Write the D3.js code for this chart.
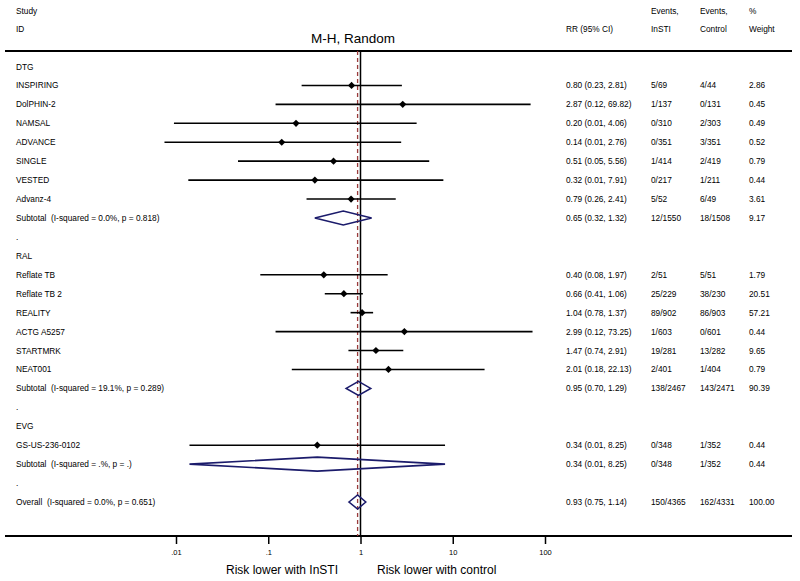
<!DOCTYPE html>
<html>
<head>
<meta charset="utf-8">
<script src="https://cdn.jsdelivr.net/npm/d3@7"></script>
<style>
  html, body { margin: 0; padding: 0; background: #fff; }
  svg text { font-family: "Liberation Sans", Arial, Helvetica, sans-serif; white-space: pre; }
</style>
</head>
<body>
<svg id="chart" width="800" height="581"></svg>
<script>
// ---- Data ----
// row kinds: "group" header, "study", "sub" (pooled subtotal), "gap" ("."), "overall"
const rowLabels = [
  "DTG", "INSPIRING", "DolPHIN-2", "NAMSAL", "ADVANCE", "SINGLE", "VESTED", "Advanz-4",
  "Subtotal  (I-squared = 0.0%, p = 0.818)", ".",
  "RAL", "Reflate TB", "Reflate TB 2", "REALITY", "ACTG A5257", "STARTMRK", "NEAT001",
  "Subtotal  (I-squared = 19.1%, p = 0.289)", ".",
  "EVG", "GS-US-236-0102", "Subtotal  (I-squared = .%, p = .)", ".",
  "Overall  (I-squared = 0.0%, p = 0.651)"
];
const rowKinds = [
  "group", "study", "study", "study", "study", "study", "study", "study", "sub", "gap",
  "group", "study", "study", "study", "study", "study", "study", "sub", "gap",
  "group", "study", "sub", "gap", "overall"
];
// plotted estimates
const rr     = [null, 0.80, 2.87, 0.20, 0.14, 0.51, 0.32, 0.79, 0.65, null,
                null, 0.40, 0.66, 1.04, 2.99, 1.47, 2.01, 0.95, null,
                null, 0.34, 0.34, null, 0.93];
const ciLow  = [null, 0.23, 0.12, 0.0095, 0.0075, 0.047, 0.0136, 0.26, 0.32, null,
                null, 0.082, 0.41, 0.78, 0.12, 0.74, 0.18, 0.70, null,
                null, 0.014, 0.014, null, 0.75];
const ciHigh = [null, 2.81, 69.82, 4.06, 2.76, 5.56, 7.91, 2.41, 1.32, null,
                null, 1.97, 1.06, 1.37, 73.25, 2.91, 22.13, 1.29, null,
                null, 8.25, 8.25, null, 1.14];
// printed columns
const rrText = ["", "0.80 (0.23, 2.81)", "2.87 (0.12, 69.82)", "0.20 (0.01, 4.06)", "0.14 (0.01, 2.76)",
  "0.51 (0.05, 5.56)", "0.32 (0.01, 7.91)", "0.79 (0.26, 2.41)", "0.65 (0.32, 1.32)", "",
  "", "0.40 (0.08, 1.97)", "0.66 (0.41, 1.06)", "1.04 (0.78, 1.37)", "2.99 (0.12, 73.25)",
  "1.47 (0.74, 2.91)", "2.01 (0.18, 22.13)", "0.95 (0.70, 1.29)", "",
  "", "0.34 (0.01, 8.25)", "0.34 (0.01, 8.25)", "", "0.93 (0.75, 1.14)"];
const eventsInSTI = ["", "5/69", "1/137", "0/310", "0/351", "1/414", "0/217", "5/52", "12/1550", "",
  "", "2/51", "25/229", "89/902", "1/603", "19/281", "2/401", "138/2467", "",
  "", "0/348", "0/348", "", "150/4365"];
const eventsControl = ["", "4/44", "0/131", "2/303", "3/351", "2/419", "1/211", "6/49", "18/1508", "",
  "", "5/51", "38/230", "86/903", "0/601", "13/282", "1/404", "143/2471", "",
  "", "1/352", "1/352", "", "162/4331"];
const weightText = ["", "2.86", "0.45", "0.49", "0.52", "0.79", "0.44", "3.61", "9.17", "",
  "", "1.79", "20.51", "57.21", "0.44", "9.65", "0.79", "90.39", "",
  "", "0.44", "0.44", "", "100.00"];
const tickValues = [0.01, 0.1, 1, 10, 100];
const tickLabels = [".01", ".1", "1", "10", "100"];
const headers = [
  {t1: "Study", t2: "ID", col: "label"},
  {t1: "", t2: "RR (95% CI)", col: "rr"},
  {t1: "Events,", t2: "InSTI", col: "ei"},
  {t1: "Events,", t2: "Control", col: "ec"},
  {t1: "%", t2: "Weight", col: "w"}
];
const overallRR = 0.93;

// ---- Layout ----
const svg = d3.select("#chart");
const x = d3.scaleLog().domain([0.01, 100]).range([176, 545]);
const y = d3.scaleLinear().domain([0, rowLabels.length - 1]).range([66.5, 502]);
const colX = {label: 16, rr: 566, ei: 651, ec: 700, w: 749};
const topY = 51, axisY = 536;
const fs = 8.3;
const navy = "#1b1b6b";

// header
headers.forEach(h => {
  if (h.t1) svg.append("text").attr("x", colX[h.col]).attr("y", 14).attr("font-size", fs).text(h.t1);
  svg.append("text").attr("x", colX[h.col]).attr("y", 32).attr("font-size", fs).text(h.t2);
});
svg.append("text").attr("x", 353).attr("y", 43).attr("text-anchor", "middle")
  .attr("font-size", 13.5).text("M-H, Random");

// horizontal rules
svg.append("line").attr("x1", 5).attr("x2", 792).attr("y1", topY).attr("y2", topY)
  .attr("stroke", "#000").attr("stroke-width", 1.8);
svg.append("line").attr("x1", 5).attr("x2", 792).attr("y1", axisY).attr("y2", axisY)
  .attr("stroke", "#000").attr("stroke-width", 1.8);

// reference lines
svg.append("line").attr("x1", x(1)).attr("x2", x(1)).attr("y1", topY).attr("y2", axisY)
  .attr("stroke", "#000").attr("stroke-width", 1.5);
svg.append("line").attr("x1", x(overallRR)).attr("x2", x(overallRR)).attr("y1", topY).attr("y2", axisY)
  .attr("stroke", "#9a3b3b").attr("stroke-width", 1.3).attr("stroke-dasharray", "4,3");

// axis ticks
const axisG = svg.append("g").attr("transform", `translate(0,${axisY})`);
const axis = d3.axisBottom(x).tickValues(tickValues).tickSize(8)
  .tickFormat((d, i) => tickLabels[i]);
axisG.call(axis);
axisG.select(".domain").remove();
axisG.selectAll(".tick line").attr("stroke", "#000").attr("stroke-width", 1.5);
axisG.selectAll(".tick text").attr("font-size", 7.5).attr("dy", 0).attr("y", 19)
  .attr("fill", "#000")
  .attr("font-family", "Liberation Sans, Arial, sans-serif");

// bottom labels
svg.append("text").attr("x", 338).attr("y", 574).attr("text-anchor", "end")
  .attr("font-size", 12).text("Risk lower with InSTI");
svg.append("text").attr("x", 377).attr("y", 574).attr("text-anchor", "start")
  .attr("font-size", 12).text("Risk lower with control");

// rows
rowLabels.forEach((lab, i) => {
  const yy = y(i);
  svg.append("text").attr("x", colX.label).attr("y", yy + 3).attr("font-size", fs).text(lab);
  svg.append("text").attr("x", colX.rr).attr("y", yy + 3).attr("font-size", fs).text(rrText[i]);
  svg.append("text").attr("x", colX.ei).attr("y", yy + 3).attr("font-size", fs).text(eventsInSTI[i]);
  svg.append("text").attr("x", colX.ec).attr("y", yy + 3).attr("font-size", fs).text(eventsControl[i]);
  svg.append("text").attr("x", colX.w).attr("y", yy + 3).attr("font-size", fs).text(weightText[i]);

  const k = rowKinds[i];
  if (k === "study") {
    svg.append("line").attr("x1", x(ciLow[i])).attr("x2", x(ciHigh[i]))
      .attr("y1", yy).attr("y2", yy).attr("stroke", "#000").attr("stroke-width", 1.6);
    const cx = x(rr[i]), s = 3.6;
    svg.append("path")
      .attr("d", `M${cx - s},${yy}L${cx},${yy - s}L${cx + s},${yy}L${cx},${yy + s}Z`)
      .attr("fill", "#000");
  } else if (k === "sub" || k === "overall") {
    const h = 7;
    const l = x(ciLow[i]), c = x(rr[i]), r = x(ciHigh[i]);
    svg.append("path")
      .attr("d", `M${l},${yy}L${c},${yy - h}L${r},${yy}L${c},${yy + h}Z`)
      .attr("fill", "none").attr("stroke", navy).attr("stroke-width", 1.6)
      .attr("stroke-linejoin", "miter");
  }
});
</script>
</body>
</html>
